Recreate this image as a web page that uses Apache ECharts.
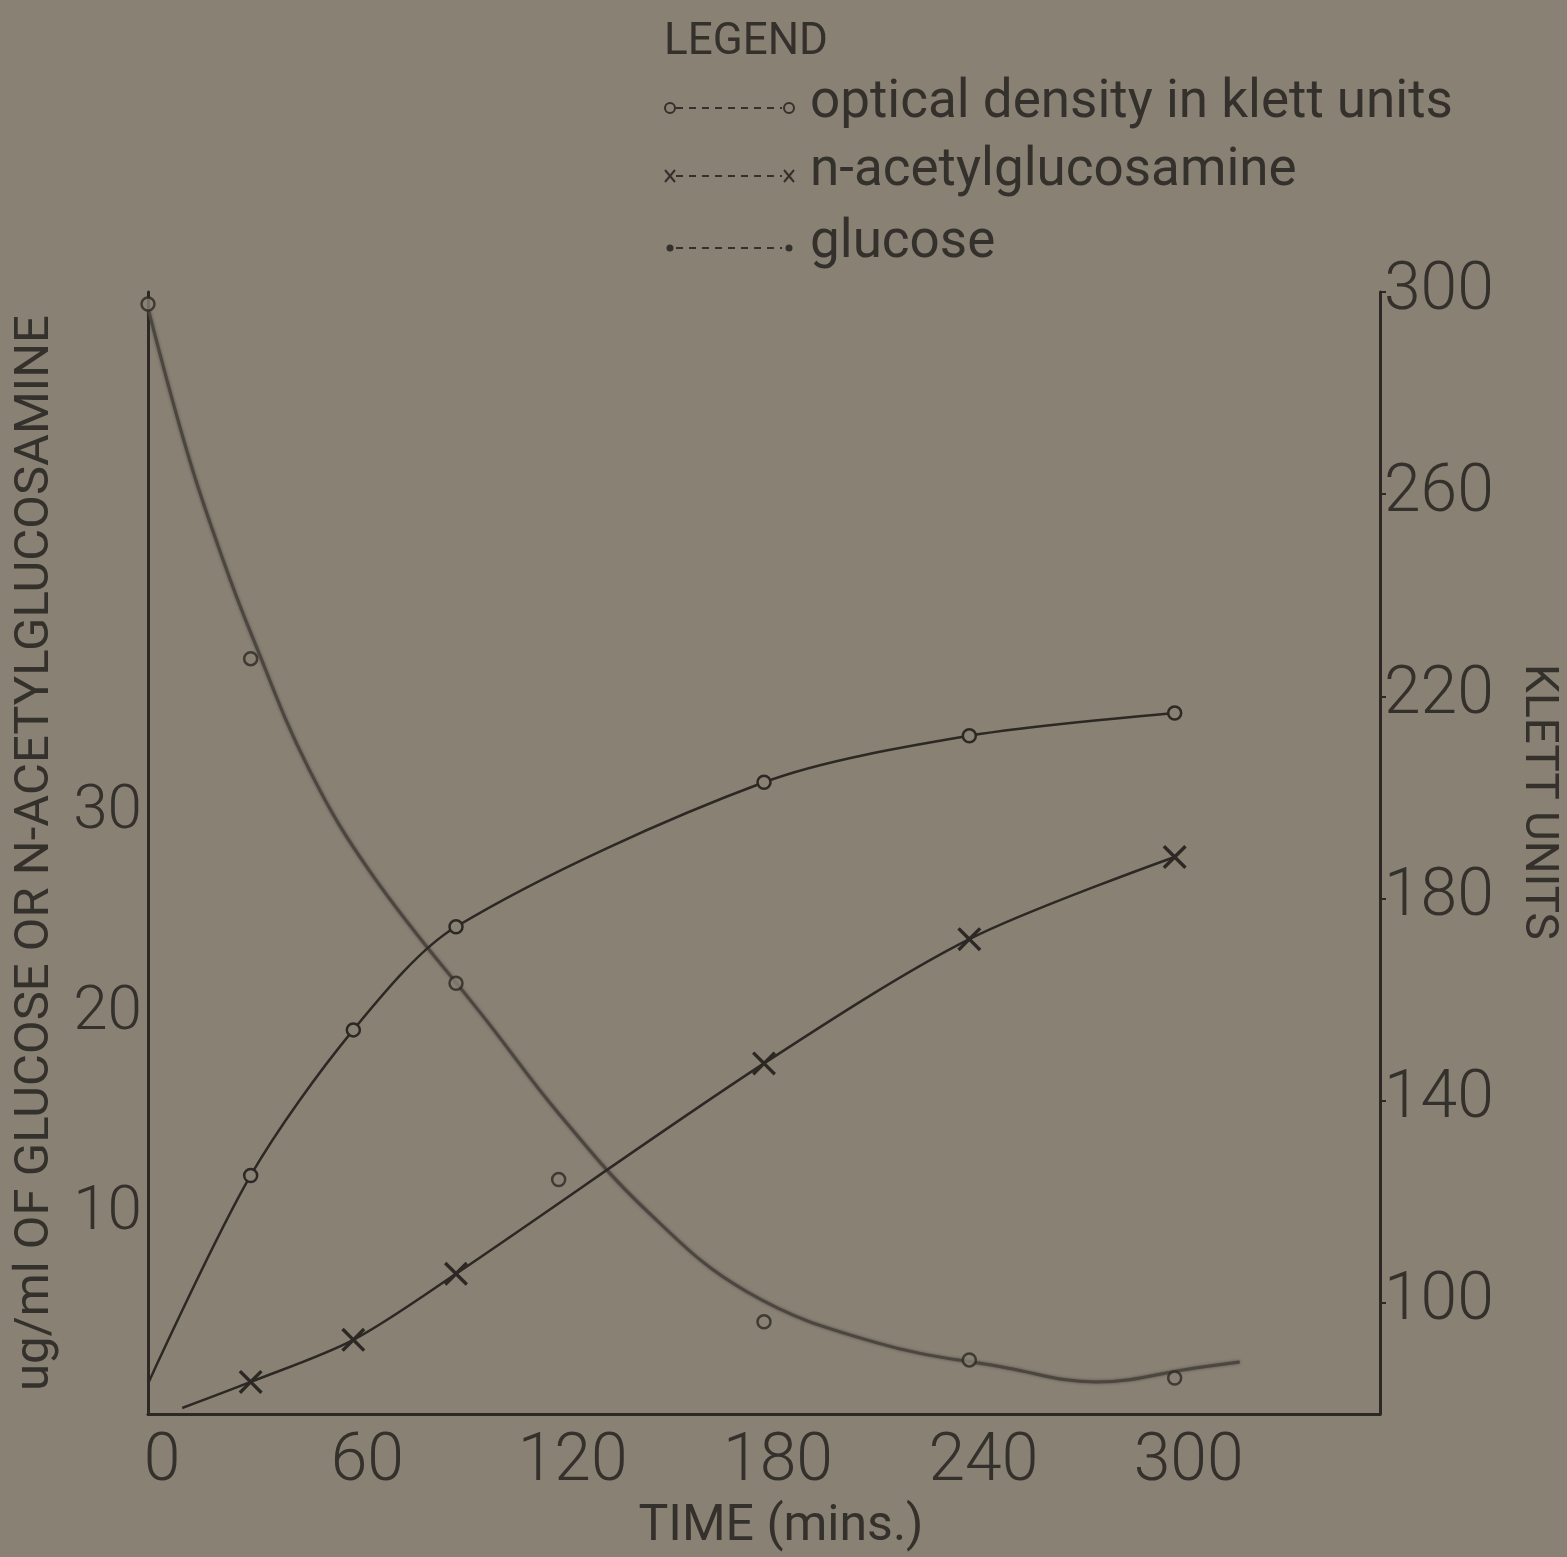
<!DOCTYPE html>
<html>
<head>
<meta charset="utf-8">
<title>Glucose, N-acetylglucosamine and growth</title>
<script src="https://cdn.jsdelivr.net/npm/echarts@6/dist/echarts.min.js"></script>
<style>
  html, body { margin: 0; padding: 0; background: #898174; }
  #chart { width: 1567px; height: 1557px; }
</style>
</head>
<body>
<div id="chart"></div>
<script>
// ---- axis ticks ----
const timeTicks = [0, 60, 120, 180, 240, 300];
const concTicks = [10, 20, 30];
const klettTicks = [100, 140, 180, 220, 260, 300];

// ---- optical density (Klett units); entry 0 is where the curve leaves the origin ----
const odTimes = [0, 30, 60, 90, 180, 240, 300];
const odKlett = [84, 125.2, 154.0, 174.4, 203.0, 212.2, 216.7];

// ---- n-acetylglucosamine (ug/ml); entry 0 is the start of the drawn line ----
const nagTimes = [10, 30, 60, 90, 180, 240, 300];
const nagValues = [0.3, 1.6, 3.7, 7.0, 17.5, 23.7, 27.8];

// ---- glucose measurements (ug/ml) ----
const glcTimes = [0, 30, 90, 120, 180, 240, 300];
const glcValues = [55.4, 37.7, 21.5, 11.7, 4.6, 2.7, 1.8];

// ---- hand-fitted glucose curve (ug/ml) ----
const glcCurveTimes = [0, 12, 22, 30, 47, 66, 100, 120, 146, 175, 212, 251, 277, 306, 319];
const glcCurveValues = [55.2, 47.7, 42.6, 39.0, 32.2, 26.8, 19.4, 15.0, 10.1, 6.1, 3.6, 2.3, 1.6, 2.3, 2.6];

const INK = '#2c2824';
const TEXT = '#34302b';
const BG = '#898174';
const FONT = 'Roboto, "Liberation Sans", sans-serif';
const CROSS = 'path://M2,0L10,8L18,0L20,2L12,10L20,18L18,20L10,12L2,20L0,18L8,10L0,2Z';

// pair times with values; the first point of a drawn line carries no marker
function lineData(times, values) {
  return times.map((t, i) => {
    const item = { value: [t, values[i]] };
    if (i === 0) item.symbol = 'none';
    return item;
  });
}

const chart = echarts.init(document.getElementById('chart'), null, { renderer: 'canvas' });

const legendRows = [
  { y: 108, label: 'optical density in klett units', mark: 'ring' },
  { y: 176, label: 'n-acetylglucosamine', mark: 'cross' },
  { y: 248, label: 'glucose', mark: 'dot' }
];

function legendSample(row) {
  const els = [{
    type: 'line',
    shape: { x1: 676, y1: row.y, x2: 782, y2: row.y },
    style: { stroke: TEXT, lineWidth: 2, lineDash: [7, 6] }
  }];
  [670, 789].forEach(cx => {
    if (row.mark === 'ring') {
      els.push({ type: 'circle', shape: { cx: cx, cy: row.y, r: 5 },
        style: { fill: 'none', stroke: TEXT, lineWidth: 2 } });
    } else if (row.mark === 'cross') {
      els.push({ type: 'line', shape: { x1: cx - 5, y1: row.y - 6, x2: cx + 5, y2: row.y + 6 },
        style: { stroke: TEXT, lineWidth: 2 } });
      els.push({ type: 'line', shape: { x1: cx + 5, y1: row.y - 6, x2: cx - 5, y2: row.y + 6 },
        style: { stroke: TEXT, lineWidth: 2 } });
    } else {
      els.push({ type: 'circle', shape: { cx: cx, cy: row.y, r: 3.5 },
        style: { fill: TEXT } });
    }
  });
  els.push({
    type: 'text', x: 810, y: row.y - 4,
    style: { text: row.label, font: '400 53px ' + FONT, fill: TEXT,
      textAlign: 'left', textVerticalAlign: 'middle' }
  });
  return els;
}

const graphics = [
  { type: 'text', x: 664, y: 43,
    style: { text: 'LEGEND', font: '400 44px ' + FONT, fill: TEXT,
      textAlign: 'left', textVerticalAlign: 'middle' } },
  { type: 'text', x: 1537, y: 802, rotation: -Math.PI / 2,
    style: { text: 'KLETT UNITS', font: '400 46px ' + FONT, fill: TEXT,
      textAlign: 'center', textVerticalAlign: 'middle' } }
];
legendRows.forEach(r => legendSample(r).forEach(e => graphics.push(e)));

const option = {
  backgroundColor: BG,
  animation: false,
  grid: { left: 148, right: 187, top: 292, bottom: 137, containLabel: false },
  xAxis: {
    type: 'value', min: 0, max: 360,
    name: 'TIME (mins.)', nameLocation: 'middle', nameGap: 88,
    nameTextStyle: { fontFamily: FONT, fontWeight: 400, fontSize: 50, color: TEXT, padding: [0, 0, 0, 34] },
    axisLine: { show: true, lineStyle: { color: INK, width: 3 } },
    axisTick: { show: false },
    splitLine: { show: false },
    axisLabel: {
      customValues: timeTicks,
      fontFamily: FONT, fontWeight: 300, fontSize: 66, color: TEXT,
      margin: 16, padding: [0, 0, 0, 28]
    }
  },
  yAxis: [
    {
      type: 'value', position: 'left', min: 0, max: 56,
      name: 'ug/ml OF GLUCOSE OR N-ACETYLGLUCOSAMINE',
      nameLocation: 'middle', nameRotate: 90, nameGap: 88,
      nameTextStyle: { fontFamily: FONT, fontWeight: 400, fontSize: 49, color: TEXT },
      axisLine: { show: true, lineStyle: { color: INK, width: 3 } },
      axisTick: { show: false },
      splitLine: { show: false },
      axisLabel: {
        customValues: concTicks,
        fontFamily: FONT, fontWeight: 300, fontSize: 62, color: TEXT, margin: 6
      }
    },
    {
      type: 'value', position: 'right', min: 78, max: 300,
      axisLine: { show: true, lineStyle: { color: INK, width: 3 } },
      axisTick: { show: true, customValues: klettTicks, length: 6, lineStyle: { color: INK, width: 2 } },
      splitLine: { show: false },
      axisLabel: {
        customValues: klettTicks,
        fontFamily: FONT, fontWeight: 300, fontSize: 66, color: TEXT, margin: 4
      }
    }
  ],
  graphic: graphics,
  series: [
    {
      name: 'glucose curve', type: 'line', yAxisIndex: 0,
      data: glcCurveTimes.map((t, i) => [t, glcCurveValues[i]]),
      showSymbol: false, smooth: 0.4,
      lineStyle: { color: '#4b463f', width: 3, shadowBlur: 3, shadowColor: 'rgba(50,45,40,0.6)' },
      z: 2
    },
    {
      name: 'optical density in klett units', type: 'line', yAxisIndex: 1,
      data: lineData(odTimes, odKlett),
      smooth: 0.3,
      symbol: 'circle', symbolSize: 13,
      itemStyle: { color: BG, borderColor: INK, borderWidth: 2.5 },
      lineStyle: { color: INK, width: 2.5 },
      z: 3
    },
    {
      name: 'n-acetylglucosamine', type: 'line', yAxisIndex: 0,
      data: lineData(nagTimes, nagValues),
      smooth: 0.3,
      symbol: CROSS, symbolSize: 24,
      itemStyle: { color: INK },
      lineStyle: { color: INK, width: 2.5 },
      z: 3
    },
    {
      name: 'glucose', type: 'scatter', yAxisIndex: 0,
      data: glcTimes.map((t, i) => [t, glcValues[i]]),
      symbol: 'circle', symbolSize: 13,
      itemStyle: { color: BG, borderColor: INK, borderWidth: 2.5 },
      z: 4
    }
  ]
};

chart.setOption(option);
</script>
</body>
</html>
